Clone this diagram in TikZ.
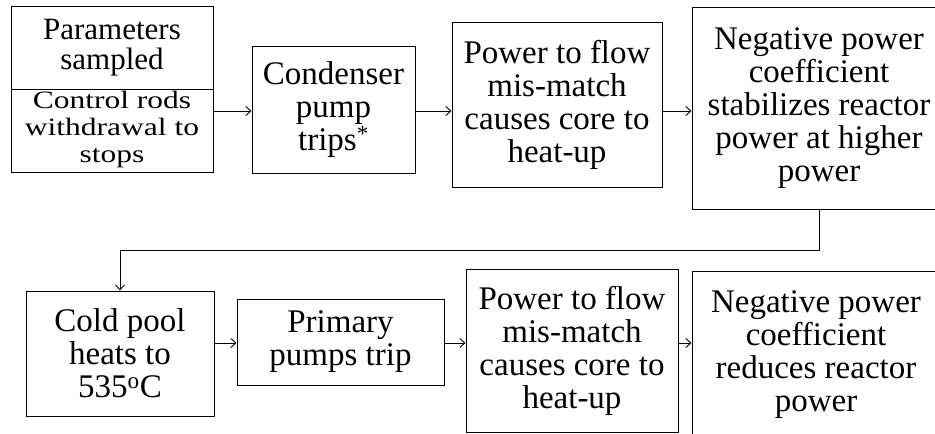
\documentclass[tikz,border=0pt]{standalone}
\usepackage{fontspec}
\setmainfont{Liberation Serif}
\usetikzlibrary{arrows.meta}
\begin{document}
\begin{tikzpicture}[x=1pt,y=-1pt,
  box/.style={draw, line width=1pt, inner sep=0pt},
  label/.style={align=center, inner sep=0pt, font=\fontsize{33}{33}\selectfont},
  tight/.style={font=\fontsize{25}{27}\selectfont, xscale=1.26, transform shape},
  flow/.style={line width=0.9pt, -{Straight Barb[length=5pt,width=9pt]}}]
\useasboundingbox (0,0) rectangle (935,434);
\clip (0,0) rectangle (935,434);

% rows for the horizontal connectors
\coordinate (r1) at (0,111);
\coordinate (r2) at (0,343);

% frames
\node[box, minimum width=202pt, minimum height=83pt] (b1up) at (112,47.5) {};
\node[box, minimum width=202pt, minimum height=83pt] (b1lo) at (112,130.5) {};
\node[box, minimum width=163pt, minimum height=127pt] (b2) at (333.5,109.5) {};
\node[box, minimum width=210pt, minimum height=165pt] (b3) at (557,104.5) {};
\node[box, minimum width=254pt, minimum height=202pt] (b4) at (819,108) {};
\node[box, minimum width=188pt, minimum height=125pt] (b5) at (120,353.5) {};
\node[box, minimum width=207pt, minimum height=86pt] (b6) at (340.5,342) {};
\node[box, minimum width=212pt, minimum height=163pt] (b7) at (572,350.5) {};
\node[box, minimum width=248pt, minimum height=167pt] (b8) at (816,354.5) {};

% texts
\node[label, font=\fontsize{31}{30}\selectfont] (t1up) at (b1up) {Parameters\\sampled};
\node[label, tight] (t1lo) at ([yshift=1.5pt]b1lo) {Control rods\\withdrawal to\\stops};
\node[label] (t2) at (b2) {Condenser\\pump\\trips\textsuperscript{*}};
\node[label] (t3) at (b3) {Power to flow\\mis-match\\causes core to\\heat-up};
\node[label] (t4) at (b4) {Negative power\\coefficient\\stabilizes reactor\\power at higher\\power};
\node[label] (t5) at (b5) {Cold pool\\heats to\\535\textsuperscript{o}C};
\node[label] (t6) at (b6) {Primary\\pumps trip};
\node[label] (t7) at (b7) {Power to flow\\mis-match\\causes core to\\heat-up};
\node[label] (t8) at (b8) {Negative power\\coefficient\\reduces reactor\\power};

% connectors
\draw[flow] (b1lo.east |- r1) -- (b2.west |- r1);
\draw[flow] (b2.east |- r1) -- (b3.west |- r1);
\draw[flow] (b3.east |- r1) -- (b4.west |- r1);
\draw[flow] (b4.south) -- ++(0,41) -| (b5.north);
\draw[flow] (b5.east |- r2) -- (b6.west |- r2);
\draw[flow] (b6.east |- r2) -- (b7.west |- r2);
\draw[flow] (b7.east |- r2) -- (b8.west |- r2);
\end{tikzpicture}
\end{document}
